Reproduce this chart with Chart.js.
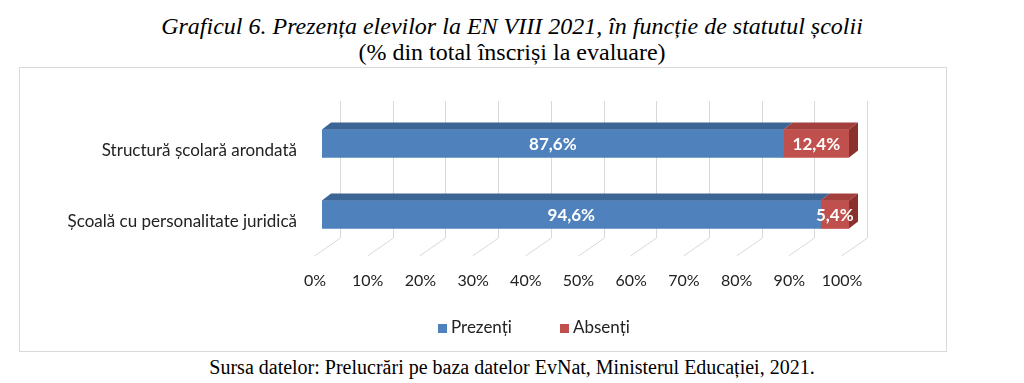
<!DOCTYPE html>
<html>
<head>
<meta charset="utf-8">
<script src="https://cdn.jsdelivr.net/npm/chart.js@4.4.1/dist/chart.umd.min.js"></script>
<style>
  html, body { margin: 0; padding: 0; background: #fff; }
  body { width: 1024px; height: 383px; position: relative; overflow: hidden; }
  .t1 { position: absolute; left: 0; width: 1024px; top: 13px; text-align: center;
        font-family: "Liberation Serif", "Times New Roman", serif; font-style: italic; font-size: 24px; line-height: 26px; color: #000; }
  .t2 { position: absolute; left: 0; width: 1024px; top: 39px; text-align: center;
        font-family: "Liberation Serif", "Times New Roman", serif; font-size: 24px; line-height: 26px; color: #000; }
  .src { position: absolute; left: 0; width: 1024px; top: 355px; text-align: center;
        font-family: "Liberation Serif", "Times New Roman", serif; font-size: 20px; line-height: 24px; color: #000; }
  #box { position: absolute; left: 19px; top: 67px; width: 926px; height: 283px; border: 1px solid #d9d9d9; }
  #box canvas { display: block; }
</style>
</head>
<body>
<div class="t1">Graficul 6. Prezența elevilor la EN VIII 2021, în funcție de statutul școlii</div>
<div class="t2">(% din total înscriși la evaluare)</div>
<div id="box"><canvas id="c" width="926" height="283"></canvas></div>
<div class="src">Sursa datelor: Prelucrări pe baza datelor EvNat, Ministerul Educației, 2021.</div>
<script>
const categories = ['Structură școlară arondată', 'Școală cu personalitate juridică'];
const seriesNames = ['Prezenți', 'Absenți'];
const prezenti = [87.6, 94.6];
const absenti = [12.4, 5.4];
const tickValues = [0, 10, 20, 30, 40, 50, 60, 70, 80, 90, 100];

const frontColors = ['#4f81bd', '#c0504d'];
const topColors = ['#3a6594', '#a3403d'];
const sideColors = ['#2f5482', '#8a302d'];
const DEPTH_X = 9, DEPTH_Y = 7;
const FONT = 'Lato, "Open Sans", sans-serif';

const fmt = v => v.toFixed(1).replace('.', ',') + '%';

const threeD = {
  id: 'threeD',
  beforeDatasetsDraw(chart) {
    const ctx = chart.ctx, xs = chart.scales.x, area = chart.chartArea;
    ctx.save();
    ctx.strokeStyle = '#d9d9d9';
    ctx.lineWidth = 1;
    const backTop = area.top - 7, backBottom = area.bottom - 12, frontBottom = area.bottom + 6;
    tickValues.forEach(v => {
      const x = Math.round(xs.getPixelForValue(v)) + 0.5;
      ctx.beginPath();
      ctx.moveTo(x + 18, backTop);
      ctx.lineTo(x + 18, backBottom);
      ctx.lineTo(x - 8, frontBottom);
      ctx.stroke();
    });
    ctx.restore();
  },
  afterDatasetsDraw(chart) {
    const ctx = chart.ctx;
    ctx.save();
    const n = chart.data.datasets.length;
    chart.data.datasets.forEach((ds, di) => {
      const meta = chart.getDatasetMeta(di);
      meta.data.forEach((bar, i) => {
        const p = bar.getProps(['x', 'y', 'base', 'height'], true);
        const left = Math.min(p.x, p.base), right = Math.max(p.x, p.base);
        const top = p.y - p.height / 2, bottom = p.y + p.height / 2;
        ctx.fillStyle = topColors[di];
        ctx.beginPath();
        ctx.moveTo(left, top);
        ctx.lineTo(right, top);
        ctx.lineTo(right + DEPTH_X, top - DEPTH_Y);
        ctx.lineTo(left + DEPTH_X, top - DEPTH_Y);
        ctx.closePath();
        ctx.fill();
        if (di === n - 1) {
          ctx.fillStyle = sideColors[di];
          ctx.beginPath();
          ctx.moveTo(right, top);
          ctx.lineTo(right + DEPTH_X, top - DEPTH_Y);
          ctx.lineTo(right + DEPTH_X, bottom - DEPTH_Y);
          ctx.lineTo(right, bottom);
          ctx.closePath();
          ctx.fill();
        }
      });
    });
    // data labels
    ctx.fillStyle = '#ffffff';
    ctx.font = 'bold 17px ' + FONT;
    ctx.textAlign = 'center';
    ctx.textBaseline = 'middle';
    chart.data.datasets.forEach((ds, di) => {
      const meta = chart.getDatasetMeta(di);
      meta.data.forEach((bar, i) => {
        const p = bar.getProps(['x', 'y', 'base'], true);
        ctx.fillText(fmt(ds.data[i]), (p.x + p.base) / 2, p.y + 1);
      });
    });
    // legend
    ctx.font = '17px ' + FONT;
    ctx.textAlign = 'left';
    ctx.textBaseline = 'middle';
    const legendX = [418, 540], legendY = 260;
    chart.data.datasets.forEach((ds, di) => {
      ctx.fillStyle = ds.backgroundColor;
      ctx.fillRect(legendX[di], legendY - 4, 9, 9);
      ctx.fillStyle = '#222';
      ctx.fillText(ds.label, legendX[di] + 13, legendY);
    });
    ctx.restore();
  }
};

new Chart(document.getElementById('c'), {
  type: 'bar',
  data: {
    labels: categories,
    datasets: [
      { label: seriesNames[0], data: prezenti, backgroundColor: frontColors[0], barThickness: 28 },
      { label: seriesNames[1], data: absenti, backgroundColor: frontColors[1], barThickness: 28 }
    ]
  },
  options: {
    indexAxis: 'y',
    responsive: false,
    animation: false,
    layout: { padding: { top: 40, right: 97, bottom: 0, left: 0 } },
    plugins: { legend: { display: false }, tooltip: { enabled: false }, title: { display: false } },
    scales: {
      x: {
        stacked: true, min: 0, max: 100,
        grid: { display: false, drawTicks: false },
        border: { display: false },
        afterBuildTicks: axis => { axis.ticks = tickValues.map(v => ({ value: v })); },
        afterFit: axis => { axis.height = 101; },
        ticks: { padding: 21, labelOffset: -7, maxRotation: 0, autoSkip: false,
                 color: '#222', font: { family: FONT, size: 16 },
                 callback: v => v + '%' }
      },
      y: {
        stacked: true,
        grid: { display: false, drawTicks: false },
        border: { display: false },
        afterFit: axis => { axis.width = 302; },
        ticks: { padding: 25, labelOffset: 7, color: '#222', font: { family: FONT, size: 17 } }
      }
    }
  },
  plugins: [threeD]
});
</script>
</body>
</html>
